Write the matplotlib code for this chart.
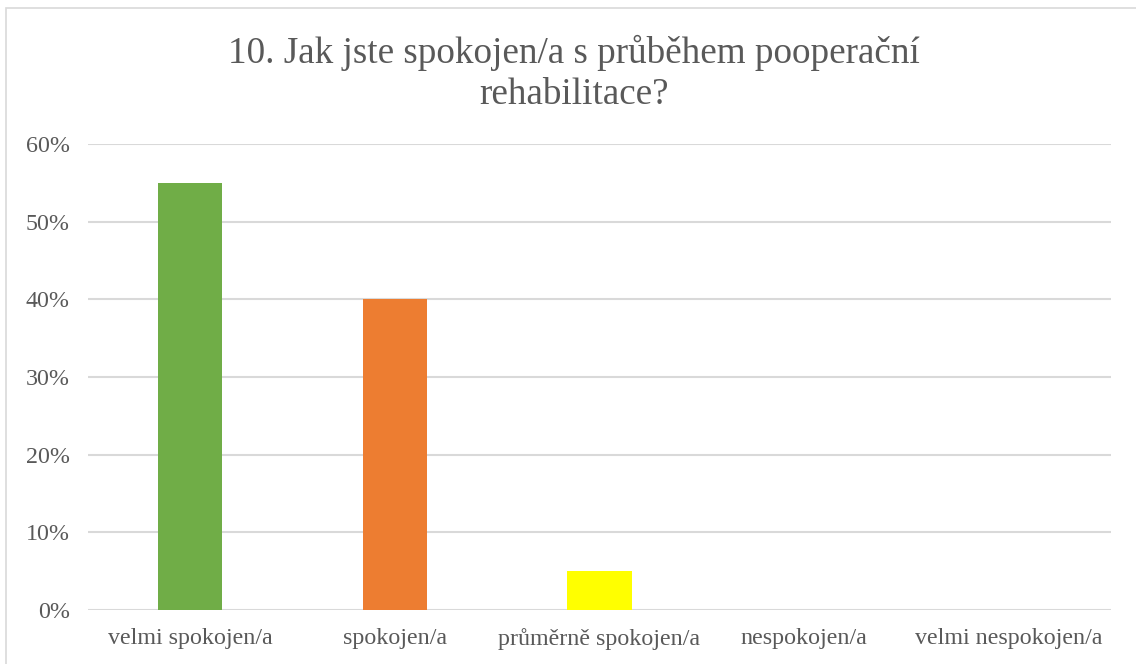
import matplotlib.pyplot as plt
from matplotlib.patches import Rectangle
from matplotlib.ticker import PercentFormatter

categories = ['velmi spokojen/a', 'spokojen/a', 'průměrně spokojen/a', 'nespokojen/a', 'velmi nespokojen/a']
values = [0.55, 0.40, 0.05, 0.0, 0.0]
colors = ['#70AD47', '#ED7D31', '#FFFF00', '#5B9BD5', '#A5A5A5']
yticks = [0, 0.1, 0.2, 0.3, 0.4, 0.5, 0.6]

plt.rcParams['font.family'] = ['Liberation Serif', 'DejaVu Serif']

fig = plt.figure(figsize=(11.36, 6.64), dpi=100)
ax = fig.add_axes([88 / 1136, 54 / 664, 1023 / 1136, 466 / 664])

x = range(len(categories))
ax.bar(x, values, width=0.313, color=colors, zorder=3)

ax.set_xlim(-0.5, len(categories) - 0.5)
ax.set_ylim(0, 0.6)
ax.set_yticks(yticks)
ax.yaxis.set_major_formatter(PercentFormatter(1.0, decimals=0))
ax.set_xticks(list(x))
ax.set_xticklabels(categories)
ax.tick_params(axis='both', length=0, labelsize=17.3, colors='#595959')
ax.tick_params(axis='x', pad=13)
ax.tick_params(axis='y', pad=13)
ax.grid(axis='y', color='#D9D9D9', linewidth=1.5, zorder=0)
for s in ax.spines.values():
    s.set_visible(False)

fig.text(0.505, 0.890, '10. Jak jste spokojen/a s průběhem pooperační\nrehabilitace?',
         ha='center', va='center', fontsize=26.7, color='#595959', linespacing=1.25)

fig.patches.append(Rectangle((6 / 1136, -0.1), 1.2, (664 - 8) / 664 + 0.1,
                             transform=fig.transFigure, fill=False,
                             edgecolor='#D9D9D9', linewidth=1.2))

fig.savefig('out.png', dpi=100)
